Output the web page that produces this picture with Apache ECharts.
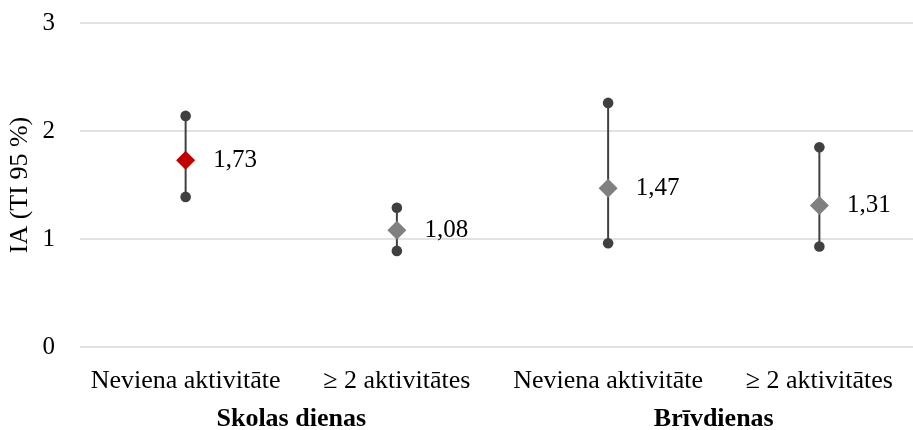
<!DOCTYPE html>
<html>
<head>
<meta charset="utf-8">
<script src="https://cdn.jsdelivr.net/npm/echarts@6/dist/echarts.min.js"></script>
<style>
  html, body { margin: 0; padding: 0; background: #fff; }
  #chart { width: 913px; height: 430px; }
</style>
</head>
<body>
<div id="chart"></div>
<script>
// Odds ratios with 95 % confidence intervals
const categories = ['Neviena aktivitāte', '≥ 2 aktivitātes', 'Neviena aktivitāte', '≥ 2 aktivitātes'];
const groups = ['Skolas dienas', 'Brīvdienas'];
const estimates = [1.73, 1.08, 1.47, 1.31];
const lowerCI = [1.39, 0.89, 0.96, 0.93];
const upperCI = [2.14, 1.29, 2.26, 1.85];
const pointColors = ['#C00000', '#808080', '#808080', '#808080'];
const yTicks = { min: 0, max: 3, step: 1 };

const FONT = '"Liberation Serif", "Times New Roman", serif';

const chart = echarts.init(document.getElementById('chart'), null, { renderer: 'canvas' });

const ciData = categories.map((c, i) => [i, lowerCI[i], upperCI[i]]);
const pointData = estimates.map((v, i) => ({
  value: [i, v],
  itemStyle: { color: pointColors[i], opacity: 1 }
}));

chart.setOption({
  animation: false,
  backgroundColor: '#ffffff',
  grid: { left: 80, top: 23, width: 845, height: 324, containLabel: false, outerBoundsMode: 'none' },
  xAxis: [
    {
      type: 'category',
      data: categories,
      axisLine: { show: false },
      axisTick: { show: false },
      axisLabel: { color: '#000', fontFamily: FONT, fontSize: 26, margin: 21, interval: 0 }
    },
    {
      type: 'category',
      data: groups,
      position: 'bottom',
      axisLine: { show: false },
      axisTick: { show: false },
      axisLabel: { color: '#000', fontFamily: FONT, fontSize: 26, fontWeight: 'bold', margin: 59, interval: 0 }
    }
  ],
  yAxis: {
    type: 'value',
    min: yTicks.min,
    max: yTicks.max,
    interval: yTicks.step,
    name: 'IA (TI 95 %)',
    nameLocation: 'middle',
    nameGap: 47,
    nameMoveOverlap: false,
    nameRotate: 90,
    nameTextStyle: { color: '#000', fontFamily: FONT, fontSize: 26 },
    axisLine: { show: false },
    axisTick: { show: false },
    axisLabel: { color: '#000', fontFamily: FONT, fontSize: 25, margin: 25 },
    splitLine: { lineStyle: { color: '#d9d9d9', width: 1.5 } }
  },
  series: [
    {
      type: 'custom',
      xAxisIndex: 0,
      data: ciData,
      renderItem: function (params, api) {
        const x = api.value(0);
        const lo = api.coord([x, api.value(1)]);
        const hi = api.coord([x, api.value(2)]);
        const col = '#404040';
        return {
          type: 'group',
          children: [
            { type: 'line', shape: { x1: lo[0], y1: lo[1], x2: hi[0], y2: hi[1] }, style: { stroke: col, lineWidth: 2 } },
            { type: 'circle', shape: { cx: lo[0], cy: lo[1], r: 5.3 }, style: { fill: col } },
            { type: 'circle', shape: { cx: hi[0], cy: hi[1], r: 5.3 }, style: { fill: col } }
          ]
        };
      },
      z: 2
    },
    {
      type: 'scatter',
      xAxisIndex: 0,
      symbol: 'diamond',
      symbolSize: 19,
      data: pointData,
      emphasis: { disabled: true },
      label: {
        show: true,
        position: 'right',
        distance: 18,
        color: '#000',
        fontFamily: FONT,
        fontSize: 25,
        formatter: p => p.value[1].toFixed(2).replace('.', ',')
      },
      z: 3
    }
  ]
});
</script>
</body>
</html>
